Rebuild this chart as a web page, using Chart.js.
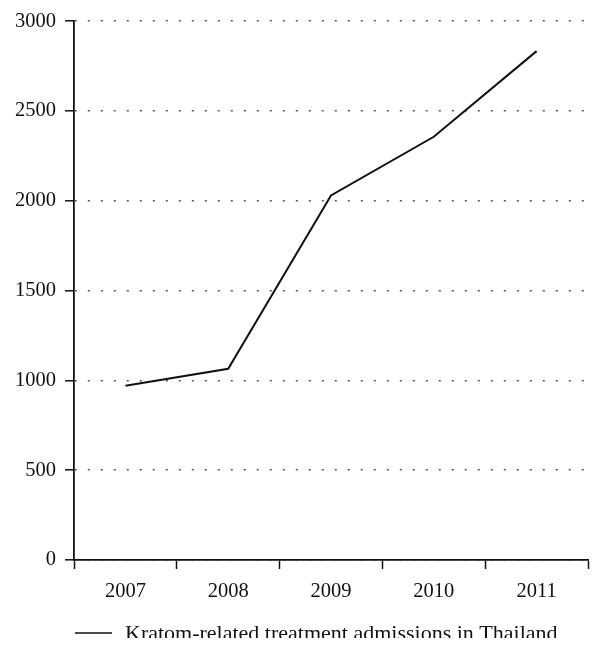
<!DOCTYPE html>
<html>
<head>
<meta charset="utf-8">
<script src="https://cdn.jsdelivr.net/npm/chart.js@4"></script>
<style>
  html, body { margin: 0; padding: 0; background: #fff; overflow: hidden; }
  #wrap { width: 603px; height: 638px; position: relative; }
</style>
</head>
<body>
<div id="wrap"><canvas id="chart"></canvas></div>
<script>
const years = ["2007", "2008", "2009", "2010", "2011"];
const admissions = [970, 1065, 2030, 2357, 2834];
const seriesLabel = "Kratom-related treatment admissions in Thailand";
const yTicks = [0, 500, 1000, 1500, 2000, 2500, 3000];

const serif = "'Liberation Serif', 'DejaVu Serif', serif";

// legend sits below the axis, cut off by the bottom edge like the original
const bottomLegend = {
  id: "bottomLegend",
  afterDraw(chart) {
    const ctx = chart.ctx;
    const ds = chart.data.datasets[0];
    ctx.save();
    ctx.strokeStyle = ds.borderColor;
    ctx.lineWidth = 1.5;
    ctx.beginPath();
    ctx.moveTo(75, 633);
    ctx.lineTo(112, 633);
    ctx.stroke();
    ctx.fillStyle = "#111";
    ctx.font = "22px " + serif;
    ctx.textBaseline = "alphabetic";
    ctx.fillText(ds.label, 125, 640);
    ctx.restore();
  }
};

new Chart(document.getElementById("chart"), {
  type: "line",
  data: {
    labels: years,
    datasets: [{
      label: seriesLabel,
      data: admissions,
      borderColor: "#111",
      borderWidth: 2,
      pointRadius: 0,
      tension: 0,
      fill: false
    }]
  },
  options: {
    responsive: true,
    maintainAspectRatio: false,
    animation: false,
    layout: { padding: { top: 20, right: 15, bottom: 36, left: 0 } },
    plugins: {
      legend: { display: false },
      tooltip: { enabled: false }
    },
    scales: {
      x: {
        offset: true,
        border: { color: "#111", width: 1.8 },
        grid: {
          offset: true,
          drawOnChartArea: false,
          drawTicks: true,
          tickLength: 9,
          tickColor: "#111",
          tickWidth: 1.5
        },
        ticks: { color: "#111", padding: 10, font: { family: serif, size: 20.5 } },
        afterFit: (s) => { s.height = 42; }
      },
      y: {
        min: 0,
        max: 3000,
        afterBuildTicks: (s) => { s.ticks = yTicks.map(v => ({ value: v })); },
        border: { color: "#111", width: 1.8, dash: [2, 11] },
        grid: {
          color: "#555",
          lineWidth: 1.6,
          tickLength: 9,
          tickColor: "#111",
          tickWidth: 1.5,
          tickBorderDash: []
        },
        ticks: {
          color: "#111",
          padding: 9,
          font: { family: serif, size: 20.5 },
          callback: (v) => String(v)
        },
        afterFit: (s) => { s.width = 74; }
      }
    }
  },
  plugins: [bottomLegend]
});
</script>
</body>
</html>
